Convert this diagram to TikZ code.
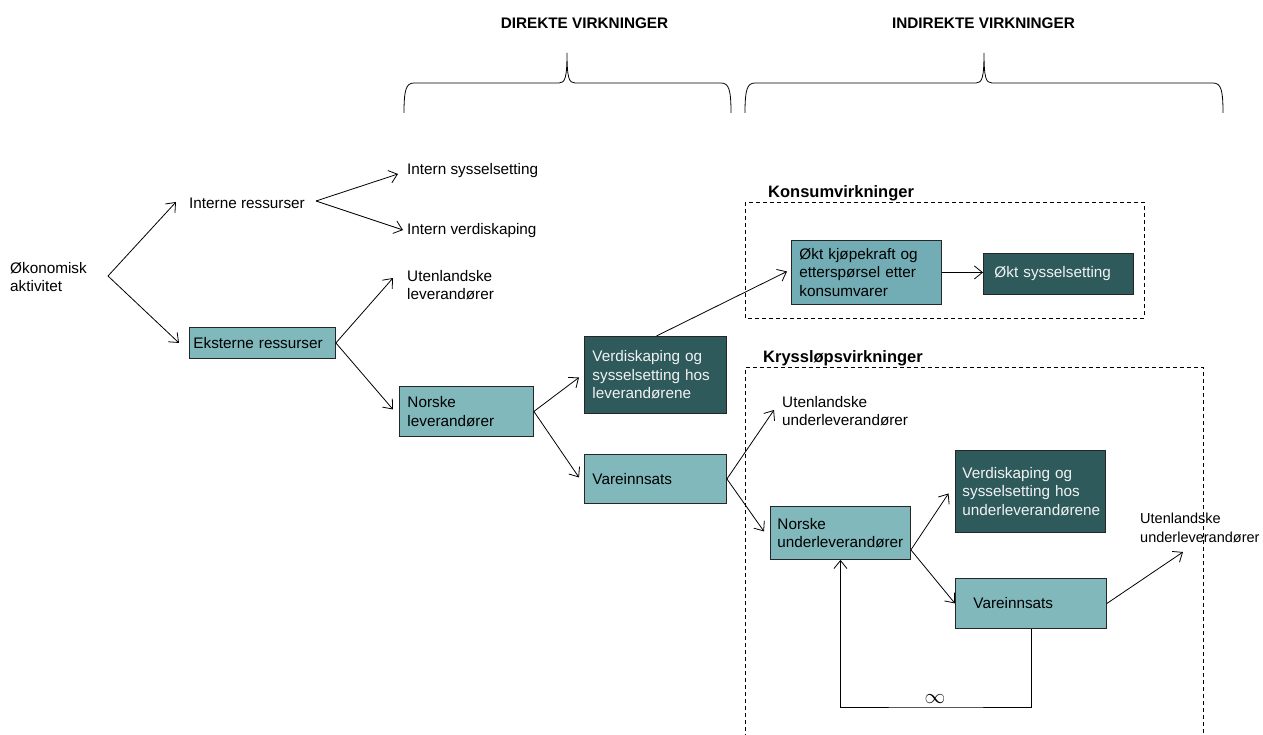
\documentclass[tikz,border=0pt]{standalone}
\usepackage{fontspec}
\setmainfont{Liberation Sans}
\usetikzlibrary{arrows.meta,calc}
\definecolor{lteal}{HTML}{80B8BC}
\definecolor{mteal}{HTML}{72ADB5}
\definecolor{dteal}{HTML}{2E5A5C}
\begin{document}
\begin{tikzpicture}[x=1pt,y=-1pt,
  body/.style={font=\fontsize{15.3}{18.5}\selectfont},
  txt/.style={body, align=left, inner sep=0pt, anchor=west},
  boxbase/.style={draw=black!85, line width=0.9pt, align=left, anchor=north west, inner ysep=0pt, body},
  lbox/.style={boxbase, fill=lteal},
  mbox/.style={boxbase, fill=mteal},
  dbox/.style={boxbase, fill=dteal, text=white!95!black},
  arr/.style={line width=0.8pt, -{Straight Barb[length=8pt,width=13pt]}},
  dashbox/.style={line width=0.8pt, dash pattern=on 4pt off 3pt},
  hdr/.style={font=\bfseries\fontsize{15.3}{18}\selectfont, inner sep=0pt},
  ttl/.style={font=\bfseries\fontsize{16.5}{19}\selectfont, inner sep=0pt, anchor=west},
  brace/.style={line width=0.8pt}
]
\useasboundingbox (0,0) rectangle (1263,735);

% headers and braces
\node[hdr] (hdir) at (584.5,23) {DIREKTE VIRKNINGER};
\node[hdr] (hind) at (983.5,23) {INDIREKTE VIRKNINGER};
\draw[brace] (404,113) .. controls (404,90) and (406,83) .. (414,83) -- (559,83)
  .. controls (565,83) and (567,78) .. (567,53)
  .. controls (567,78) and (569,83) .. (575,83) -- (721,83)
  .. controls (729,83) and (731,90) .. (731,113);
\draw[brace] (745,113) .. controls (745,90) and (747,83) .. (755,83) -- (976,83)
  .. controls (982,83) and (984,78) .. (984,53)
  .. controls (984,78) and (986,83) .. (992,83) -- (1213,83)
  .. controls (1221,83) and (1223,90) .. (1223,113);

% dashed groups
\draw[dashbox] (745,202) rectangle (1144,318);
\draw[dashbox] (745,745) -- (745,367.5) -- (1203,367.5) -- (1203,745);
\node[ttl] (konsT) at (768,193) {Konsumvirkninger};
\node[ttl] (kryT) at (763,358) {Kryssløpsvirkninger};

% plain texts
\node[txt] (oko) at (10,277) {Økonomisk\\aktivitet};
\node[txt] (intres) at (189,203) {Interne ressurser};
\node[txt] (isys) at (407,171) {Intern sysselsetting};
\node[txt] (iverd) at (407,231) {Intern verdiskaping};
\node[txt] (ulev) at (407,285) {Utenlandske\\leverandører};
\node[txt] (uund1) at (782,411) {Utenlandske\\underleverandører};
\node[txt, font=\fontsize{14.5}{18.5}\selectfont] (uund2) at (1140,528) {Utenlandske\\underleverandører};

% boxes
\node[lbox, minimum width=146pt, minimum height=31pt, text width=138pt, inner xsep=4pt] (ekst) at (189,327) {Eksterne ressurser};
\node[lbox, minimum width=134pt, minimum height=50pt, text width=118pt, inner xsep=8pt] (nlev) at (399,386) {Norske\\leverandører};
\node[dbox, minimum width=142pt, minimum height=77pt, text width=126pt, inner xsep=8pt] (verd) at (584,336) {Verdiskaping og\\sysselsetting hos\\leverandørene};
\node[lbox, minimum width=142pt, minimum height=49pt, text width=126pt, inner xsep=8pt] (vare1) at (584,454) {Vareinnsats};
\node[mbox, minimum width=150pt, minimum height=64pt, text width=134pt, inner xsep=8pt] (okt) at (791,240) {Økt kjøpekraft og\\etterspørsel etter\\konsumvarer};
\node[dbox, minimum width=150pt, minimum height=41pt, text width=128pt, inner xsep=11pt] (oktsys) at (983,253) {Økt sysselsetting};
\node[lbox, minimum width=140pt, minimum height=53pt, text width=126pt, inner xsep=7pt] (nund) at (770,506) {Norske\\underleverandører};
\node[dbox, minimum width=150pt, minimum height=82pt, text width=136pt, inner xsep=7pt] (verdu) at (955,450) {Verdiskaping og\\sysselsetting hos\\underleverandørene};
\node[lbox, minimum width=151pt, minimum height=50pt, text width=115pt, inner xsep=18pt] (vare2) at (955,578) {Vareinnsats};

% fork points
\coordinate (f0) at (108,276);
\coordinate (f1) at (316,201);
\coordinate (f2) at ($(nund.south east)+(0,-10)$);
\coordinate (loopc) at (936,707);

% connectors
\draw[arr] (f0) -- ($(intres.west)+(-13,-1)$);
\draw[arr] (f0) -- ($(ekst.west)+(-10,0)$);
\draw[arr] (f1) -- ($(isys.west)+(-9,3)$);
\draw[arr] (f1) -- ($(iverd.west)+(-4,-1)$);
\draw[arr] (ekst.east) -- ($(ulev.west)+(-14,-7)$);
\draw[arr] (ekst.east) -- ($(nlev.west)+(-6,-2)$);
\draw[arr] (nlev.east) -- ($(verd.west)+(-5,2.5)$);
\draw[arr] (nlev.east) -- ($(vare1.west)+(-5,-1.5)$);
\draw[arr] ($(verd.north)+(1,0)$) -- ($(okt.west)+(-4,-1)$);
\draw[arr] (okt.east) -- (okt.east -| oktsys.west);
\draw[arr] (vare1.east) -- ($(uund1.west)+(-8,-1)$);
\draw[arr] (vare1.east) -- ($(nund.west)+(-6,-1.5)$);
\draw[arr] (f2) -- ($(verdu.west)+(-6.5,2)$);
\draw[arr] (f2) -- (vare2.west);
\draw[arr] (vare2.east) -- ($(uund2.west)+(43,24)$);
\draw[arr] ($(vare2.south west)+(76,0)$) |- (loopc) -| (nund.south);
\node[inner sep=0pt] (inf) at (935,699) {\fontsize{21}{21}\selectfont$\infty$};
\end{tikzpicture}
\end{document}
